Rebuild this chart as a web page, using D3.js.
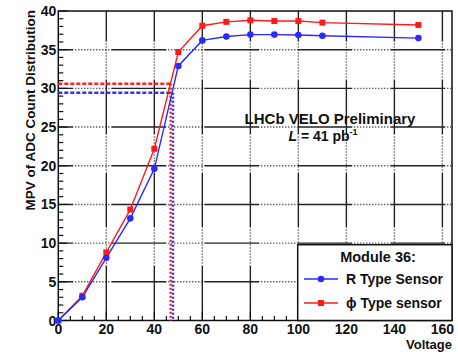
<!DOCTYPE html>
<html>
<head>
<meta charset="utf-8">
<script src="https://cdn.jsdelivr.net/npm/d3@7"></script>
<style>
  body { margin: 0; background: #fff; }
  text { font-family: "Liberation Sans", Arial, sans-serif; fill: #111; }
</style>
</head>
<body>
<div id="chart"></div>
<script>
const voltages = [0, 10, 20, 30, 40, 50, 60, 70, 80, 90, 100, 110, 150];
const rType = [0, 3.0, 8.1, 13.2, 19.6, 32.9, 36.2, 36.7, 36.95, 36.95, 36.9, 36.8, 36.5];
const phiType = [0, 3.2, 8.8, 14.35, 22.2, 34.7, 38.1, 38.6, 38.8, 38.7, 38.7, 38.5, 38.2];
const xTicks = [0, 20, 40, 60, 80, 100, 120, 140, 160];
const yTicks = [0, 5, 10, 15, 20, 25, 30, 35, 40];
// working points
const rWork = { v: 47.8, mpv: 29.45 };
const phiWork = { v: 46.8, mpv: 30.6 };

const W = 458, H = 352;
const mLeft = 58.3, mRight = 452, mTop = 11, mBottom = 320.5;

const svg = d3.select("#chart").append("svg")
    .attr("width", W).attr("height", H);

const x = d3.scaleLinear().domain([0, 164]).range([mLeft, mRight]);
const y = d3.scaleLinear().domain([0, 40]).range([mBottom, mTop]);

// grid: long solid runs broken by dotted runs
const gridDash = [55, 2].concat(d3.range(12).flatMap(() => [1, 2])).join(",");
svg.append("g").selectAll("line")
    .data(xTicks.filter(d => d > 0))
    .enter().append("line")
    .attr("x1", d => x(d)).attr("x2", d => x(d))
    .attr("y1", mBottom).attr("y2", mTop)
    .attr("stroke", "#222").attr("stroke-width", 1.4)
    .attr("stroke-dasharray", gridDash);
svg.append("g").selectAll("line")
    .data(yTicks.filter(d => d > 0 && d < 40))
    .enter().append("line")
    .attr("x1", mLeft).attr("x2", mRight)
    .attr("y1", d => y(d)).attr("y2", d => y(d))
    .attr("stroke", "#222").attr("stroke-width", 1.4)
    .attr("stroke-dasharray", gridDash)
    .attr("stroke-dashoffset", 40);

// minor ticks
svg.append("g").selectAll("line")
    .data(d3.range(0, 41, 1))
    .enter().append("line")
    .attr("x1", mLeft).attr("x2", d => mLeft + (d % 5 === 0 ? 9 : 5))
    .attr("y1", d => y(d)).attr("y2", d => y(d))
    .attr("stroke", "#111").attr("stroke-width", 1.2);
svg.append("g").selectAll("line")
    .data(d3.range(0, 165, 5))
    .enter().append("line")
    .attr("x1", d => x(d)).attr("x2", d => x(d))
    .attr("y1", mBottom).attr("y2", d => mBottom - (d % 20 === 0 ? 9 : 4.5))
    .attr("stroke", "#111").attr("stroke-width", 1.2);

// frame
svg.append("rect")
    .attr("x", mLeft).attr("y", mTop)
    .attr("width", mRight - mLeft).attr("height", mBottom - mTop)
    .attr("fill", "none").attr("stroke", "#111").attr("stroke-width", 1.5);

// tick labels
svg.append("g").selectAll("text")
    .data(yTicks)
    .enter().append("text")
    .attr("x", mLeft - 2).attr("y", d => y(d) + 5)
    .attr("text-anchor", "end")
    .style("font-size", "14px").style("font-weight", "bold")
    .text(d => d);
svg.append("g").selectAll("text")
    .data(xTicks)
    .enter().append("text")
    .attr("x", d => x(d)).attr("y", 334)
    .attr("text-anchor", "middle")
    .style("font-size", "14px").style("font-weight", "bold")
    .text(d => d);

svg.append("text")
    .attr("x", mRight).attr("y", 348.5)
    .attr("text-anchor", "end")
    .style("font-size", "13px").style("font-weight", "bold")
    .text("Voltage");

svg.append("text")
    .attr("transform", "translate(35,10) rotate(-90)")
    .attr("text-anchor", "end")
    .style("font-size", "13.5px").style("font-weight", "bold")
    .text("MPV of ADC Count Distribution");

// working-point guide lines
function guide(w, color) {
    svg.append("line")
        .attr("x1", x(0)).attr("x2", x(w.v))
        .attr("y1", y(w.mpv)).attr("y2", y(w.mpv))
        .attr("stroke", color).attr("stroke-width", 2.5)
        .attr("stroke-dasharray", "4,2");
    svg.append("line")
        .attr("x1", x(w.v)).attr("x2", x(w.v))
        .attr("y1", y(w.mpv)).attr("y2", y(0))
        .attr("stroke", color).attr("stroke-width", 2.5)
        .attr("stroke-dasharray", "2,2");
}
guide(phiWork, "#ff2020");
guide(rWork, "#3030ff");

// series
const blue = "#2a2aff", red = "#ff1a1a";
const line = d3.line().x(d => x(d[0])).y(d => y(d[1]));
const rPts = voltages.map((v, i) => [v, rType[i]]);
const phiPts = voltages.map((v, i) => [v, phiType[i]]);

svg.append("path").datum(phiPts).attr("d", line)
    .attr("fill", "none").attr("stroke", red).attr("stroke-width", 1.4);
svg.append("path").datum(rPts).attr("d", line)
    .attr("fill", "none").attr("stroke", blue).attr("stroke-width", 1.4);

svg.append("g").selectAll("rect")
    .data(phiPts).enter().append("rect")
    .attr("x", d => x(d[0]) - 3).attr("y", d => y(d[1]) - 3)
    .attr("width", 6).attr("height", 6).attr("fill", red);
svg.append("g").selectAll("circle")
    .data(rPts).enter().append("circle")
    .attr("cx", d => x(d[0])).attr("cy", d => y(d[1]))
    .attr("r", 3.3).attr("fill", blue);

// annotation
svg.append("text")
    .attr("x", 330).attr("y", 124)
    .attr("text-anchor", "middle")
    .style("font-size", "15px").style("font-weight", "bold")
    .text("LHCb VELO Preliminary");
const lum = svg.append("text")
    .attr("x", 323).attr("y", 141)
    .attr("text-anchor", "middle")
    .style("font-size", "14px").style("font-weight", "bold");
lum.append("tspan").style("font-style", "italic").text("L");
lum.append("tspan").text(" = 41 pb");
lum.append("tspan").attr("dy", -6).style("font-size", "9px").text("-1");

// legend
const lg = svg.append("g");
lg.append("rect")
    .attr("x", 297.7).attr("y", 244.7)
    .attr("width", mRight - 297.7).attr("height", mBottom - 244.7)
    .attr("fill", "#fff").attr("stroke", "#111").attr("stroke-width", 1.5);
lg.append("text")
    .attr("x", 378).attr("y", 262)
    .attr("text-anchor", "middle")
    .style("font-size", "14.5px").style("font-weight", "bold")
    .text("Module 36:");
const entries = [
    { label: "R Type Sensor", color: blue, shape: "circle", yy: 284 },
    { label: "\u03d5 Type sensor", color: red, shape: "square", yy: 308 }
];
entries.forEach(e => {
    lg.append("line")
        .attr("x1", 304).attr("x2", 338)
        .attr("y1", e.yy - 5).attr("y2", e.yy - 5)
        .attr("stroke", e.color).attr("stroke-width", 1.4);
    if (e.shape === "circle") {
        lg.append("circle").attr("cx", 321).attr("cy", e.yy - 5).attr("r", 3.3).attr("fill", e.color);
    } else {
        lg.append("rect").attr("x", 318).attr("y", e.yy - 8).attr("width", 6).attr("height", 6).attr("fill", e.color);
    }
    lg.append("text")
        .attr("x", 346).attr("y", e.yy)
        .style("font-size", "14px").style("font-weight", "bold")
        .text(e.label);
});
</script>
</body>
</html>
